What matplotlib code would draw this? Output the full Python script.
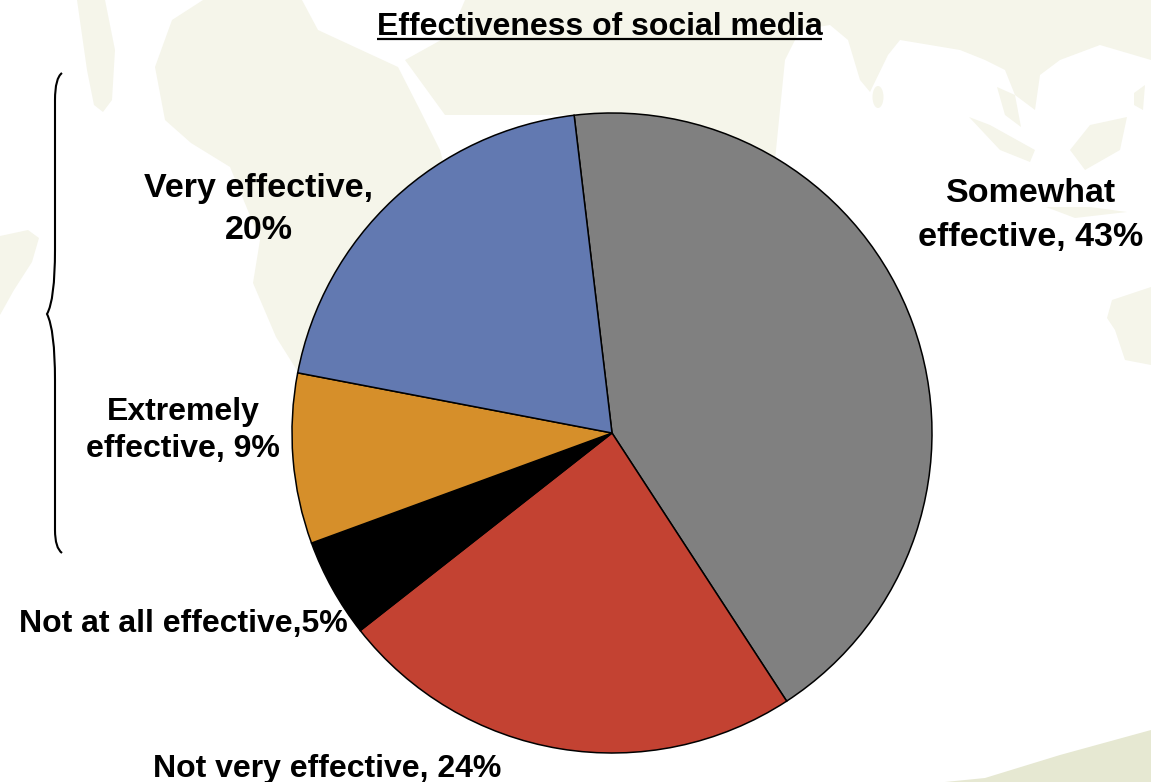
import matplotlib
matplotlib.use("Agg")
import matplotlib.pyplot as plt
from matplotlib.patches import Polygon, PathPatch, Ellipse
from matplotlib.path import Path

W, H = 1151, 782
categories = ["Somewhat effective", "Not very effective", "Not at all effective", "Extremely effective", "Very effective"]
values = [42.7, 23.6, 5.0, 8.6, 20.1]
colors = ["#808080", "#C34232", "#000000", "#D68F2A", "#6279B1"]
# text, centre x, baseline y, font size
label_lines = [
    ("Somewhat", 1031, 202, 24.5),
    ("effective, 43%", 1031, 246, 24.5),
    ("Not very effective, 24%", 327, 777, 23),
    ("Not at all effective,5%", 183, 632, 23),
    ("Extremely", 183, 420, 23),
    ("effective, 9%", 183, 457, 23),
    ("Very effective,", 259, 197, 24.5),
    ("20%", 259, 239, 24.5),
]
title = "Effectiveness of social media"

plt.rcParams["font.family"] = ["Liberation Sans", "DejaVu Sans"]
fig = plt.figure(figsize=(W / 100, H / 100), dpi=100, facecolor="white")
bg = fig.add_axes([0, 0, 1, 1], zorder=0)
bg.set_xlim(0, W); bg.set_ylim(H, 0); bg.axis("off")

land = "#F5F5EA"
shapes = [
    # Greenland
    [(77,0),(105,0),(115,50),(112,100),(103,112),(94,105),(87,70)],
    # South America edge
    [(0,236),(28,230),(39,238),(32,262),(14,290),(0,315)],
    # Africa / Europe
    [(172,20),(203,0),(302,0),(318,30),(398,67),(420,110),(440,150),(480,300),(298,372),
     (276,337),(253,283),(260,240),(230,167),(191,143),(165,120),(155,67)],
    # Asia
    [(405,60),(450,35),(465,0),(1151,0),(1151,60),(1100,45),(1060,60),(1040,75),(1035,110),
     (1015,95),(1005,70),(985,60),(960,50),(900,40),(888,55),(870,92),(860,80),(848,40),
     (830,25),(800,30),(785,60),(775,160),(720,200),(600,115),(445,115)],
    # South-East Asia islands
    [(997,87),(1015,95),(1021,127),(1005,115)],
    [(969,117),(990,125),(1035,150),(1030,162),(1000,150)],
    [(1070,150),(1090,125),(1127,117),(1120,150),(1085,170)],
    [(1046,207),(1090,207),(1127,212),(1075,218)],
    [(1134,93),(1145,85),(1143,110),(1134,105)],
    # Australia
    [(1112,300),(1151,287),(1151,365),(1125,360),(1115,330),(1107,318)],
]
for s in shapes:
    bg.add_patch(Polygon(s, closed=True, fc=land, ec="none"))
bg.add_patch(Ellipse((878, 97), 11, 22, fc=land, ec="none"))
bg.add_patch(Polygon([(945,782),(985,778),(1060,755),(1151,730),(1151,782)], closed=True, fc="#E6E8D2", ec="none"))

# Pie: centre (612, 433), radius 320 px
r = 320
ax = fig.add_axes([(612 - r) / W, 1 - (433 + r) / H, 2 * r / W, 2 * r / H], zorder=1)
ax.pie(values, colors=colors, startangle=96.8, counterclock=False, radius=1,
       wedgeprops=dict(edgecolor="black", linewidth=1.1))
ax.set_xlim(-1, 1); ax.set_ylim(-1, 1)
ax.patch.set_alpha(0)
for p in ax.patches:
    p.set_clip_on(False)

top = fig.add_axes([0, 0, 1, 1], zorder=2)
top.set_xlim(0, W); top.set_ylim(H, 0); top.axis("off")
for txt, x, y, fs in label_lines:
    top.text(x, y, txt, ha="center", va="baseline", fontsize=fs, fontweight="bold", color="black")
top.text(599.5, 35, title, ha="center", va="baseline", fontsize=23, fontweight="bold", color="black")
top.plot([377, 822], [38.5, 38.5], color="black", lw=1.6, solid_capstyle="butt")

verts = [(62,73),(55,78),(55,100),(55,180),(55,250),(55,300),(47,314),
         (55,330),(55,380),(55,450),(55,530),(55,548),(62,553)]
codes = [Path.MOVETO] + [Path.CURVE3] * 12
top.add_patch(PathPatch(Path(verts, codes), fc="none", ec="black", lw=1.5))

fig.savefig("out.png", dpi=100, facecolor="white")
